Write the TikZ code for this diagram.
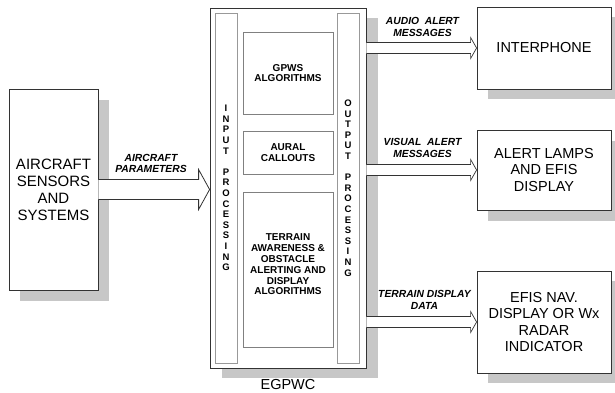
\documentclass[tikz,border=0pt]{standalone}
\usepackage{fontspec}
\setmainfont{Liberation Sans}
\usetikzlibrary{calc,shadows}
\def\fatarrow[#1](#2)(#3)(#4:#5:#6){\draw[#1] ($(#2)+(0,#4)$) -- ($(#3)+(-#6,#4)$) -- ($(#3)+(-#6,#5)$) -- (#3) -- ($(#3)+(-#6,-#5)$) -- ($(#3)+(-#6,-#4)$) -- ($(#2)+(0,-#4)$);}
\tikzset{
  boxshadow/.style 2 args={drop shadow={shadow xshift=#1, shadow yshift=#2, fill=black!22, opacity=1}},
  sysbox/.style={draw=black!80, fill=white, line width=0.8pt, align=center, inner sep=0pt, font=\fontsize{14.5}{16.5}\selectfont},
  procbox/.style={draw=black!40, line width=0.6pt, minimum width=22pt, minimum height=350pt, inner sep=0pt, align=center, font=\bfseries\fontsize{9.5}{10.6}\selectfont},
  algbox/.style={draw=black!50, line width=0.6pt, minimum width=90pt, inner sep=0pt, align=center, font=\bfseries\fontsize{10}{10.8}\selectfont},
  arrowbox/.style={draw=black!80, fill=white, line width=0.8pt},
  msglabel/.style={align=center, inner sep=0pt, font=\bfseries\itshape\fontsize{10.3}{11.5}\selectfont}
}
\begin{document}
\begin{tikzpicture}[x=1pt, y=1pt]
		%%%%% START %%%%%
		\useasboundingbox (0,0) rectangle (615,392);
		
		\node[sysbox, boxshadow={11pt}{-11pt}, minimum width=89pt, minimum height=201pt, font=\fontsize{15}{17}\selectfont] (sensors) at (53.5,202.5) {AIRCRAFT\\SENSORS\\AND\\SYSTEMS};
		
		\node[sysbox, boxshadow={12pt}{-10pt}, minimum width=156pt, minimum height=360pt] (egpwc) at (288,204) {};
		\node[font=\fontsize{14.5}{16}\selectfont] (egpwclabel) at (288,7) {EGPWC};
		
		\node[procbox] (inproc) at (226,204) {I\\N\\P\\U\\T\\[10.6pt]P\\R\\O\\C\\E\\S\\S\\I\\N\\G};
		\node[procbox] (outproc) at (348,204) {O\\U\\T\\P\\U\\T\\[10.6pt]P\\R\\O\\C\\E\\S\\S\\I\\N\\G};
		
		\node[algbox, minimum height=82pt] (gpws) at (288,319) {GPWS\\ALGORITHMS};
		\node[algbox, minimum height=43pt] (aural) at (288,239.5) {AURAL\\CALLOUTS};
		\node[algbox, minimum height=155pt] (terrain) at (288,122.5) {TERRAIN\\AWARENESS \&\\OBSTACLE\\ALERTING AND\\DISPLAY\\ALGORITHMS\\[-0.8pt]};
		
		\node[sysbox, boxshadow={11pt}{-10pt}, minimum width=134pt, minimum height=82pt] (interphone) at (544,344) {INTERPHONE};
		\node[sysbox, boxshadow={11pt}{-11pt}, minimum width=134pt, minimum height=80pt] (lamps) at (544,222) {ALERT LAMPS\\AND EFIS\\DISPLAY};
		\node[sysbox, boxshadow={11pt}{-10pt}, minimum width=134pt, minimum height=102pt] (efisnav) at (544,70) {EFIS NAV.\\DISPLAY OR Wx\\RADAR\\INDICATOR};
		
		% input
		\fatarrow[arrowbox](sensors.east)(egpwc.west |- sensors.east)(10:20:11)
		\node[msglabel] (paramlbl) at ($(sensors.east)!0.5!(egpwc.west |- sensors.east)+(-3,26)$) {AIRCRAFT\\PARAMETERS};
		
		% outputs
		\fatarrow[arrowbox, line width=0.7pt](egpwc.east |- interphone.west)(interphone.west)(5.5:10.5:6)
		\fatarrow[arrowbox, line width=0.7pt](egpwc.east |- lamps.west)(lamps.west)(5.5:10.5:6)
		\fatarrow[arrowbox, line width=0.7pt](egpwc.east |- efisnav.west)(efisnav.west)(5.5:10.5:6)
		
		\node[msglabel] (audiolbl) at ($(egpwc.east |- interphone.west)!0.5!(interphone.west)+(1,21)$) {AUDIO~~ALERT\\MESSAGES};
		\node[msglabel] (visuallbl) at ($(egpwc.east |- lamps.west)!0.5!(lamps.west)+(1,22)$) {VISUAL~~ALERT\\MESSAGES};
		\node[msglabel] (displbl) at ($(egpwc.east |- efisnav.west)!0.5!(efisnav.west)+(3,22)$) {TERRAIN DISPLAY\\DATA};
		
		%%%%% END %%%%%
\end{tikzpicture}
\end{document}
